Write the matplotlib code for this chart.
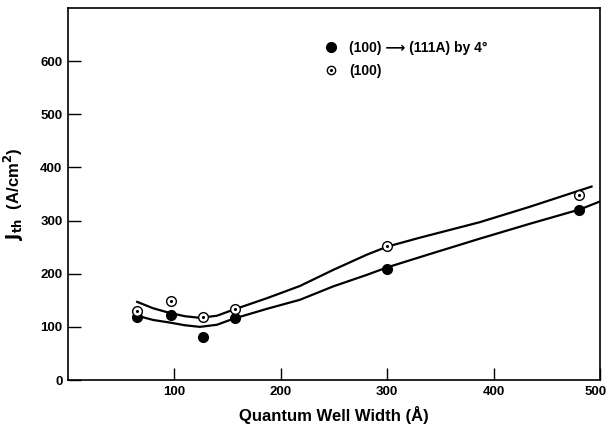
import numpy as np
import matplotlib
matplotlib.use('Agg')
import matplotlib.pyplot as plt
import matplotlib.transforms as mtransforms
from matplotlib.lines import Line2D

plt.rcParams['font.family'] = ['Liberation Sans', 'DejaVu Sans']

# measured points
width = [65, 97, 127, 157, 300, 480]
jth_tilted = [119, 123, 81, 117, 209, 319]   # (100) -> (111A) by 4 deg
jth_100 = [130, 148, 118, 133, 253, 349]     # (100)

# hand-drawn guide curves
upper_x = [65, 80, 96, 110, 124, 140, 155, 187, 218, 249, 281, 300, 331, 387, 434, 492]
upper_y = [147, 135, 126, 120, 117, 121, 132, 154, 177, 207, 236, 251, 268, 297, 326, 364]
lower_x = [65, 80, 96, 110, 124, 140, 155, 187, 218, 249, 281, 300, 340, 387, 434, 481, 500]
lower_y = [121, 113, 108, 103, 100, 104, 115, 134, 151, 176, 198, 212, 237, 266, 294, 321, 336]

fig = plt.figure(figsize=(6.09, 4.28), dpi=100)
ax = fig.add_axes([0.1117, 0.1121, 0.8736, 0.8692])

ax.plot(upper_x, upper_y, color='black', lw=1.6, solid_joinstyle='round')
ax.plot(lower_x, lower_y, color='black', lw=1.6, solid_joinstyle='round')

ax.plot(width, jth_tilted, 'o', color='black', ms=7, zorder=3)
ax.plot(width, jth_100, 'o', mfc='white', mec='black', mew=1.0, ms=7, zorder=3)
ax.plot(width, jth_100, '.', color='black', ms=2.5, zorder=4)

ax.set_xlim(0, 500)
ax.set_ylim(0, 700)
ax.set_xticks([100, 200, 300, 400, 500])
ax.set_yticks([0, 100, 200, 300, 400, 500, 600])
ax.tick_params(direction='in', length=9, width=1, labelsize=9.5, pad=4)
for lab in ax.get_xticklabels() + ax.get_yticklabels():
    lab.set_fontweight('bold')
# nudge the last x label so it stays inside the figure
last = ax.get_xticklabels()[-1]
last.set_transform(last.get_transform() +
                   mtransforms.ScaledTranslation(-3 / 72, 0, fig.dpi_scale_trans))
for s in ax.spines.values():
    s.set_linewidth(1.2)

ax.set_xlabel('Quantum Well Width (Å)', fontsize=12, fontweight='bold', labelpad=6)
ax.set_ylabel(r'$\mathbf{J_{th}}$  (A/cm$^{\mathbf{2}}$)', fontsize=12, fontweight='bold', labelpad=10)

h1 = Line2D([], [], marker='o', color='black', ls='none', ms=7)
h2 = Line2D([], [], marker='o', mfc='white', mec='black', ls='none', ms=6)
h3 = Line2D([], [], marker='.', color='black', ls='none', ms=2.5)
leg = ax.legend([h1, (h2, h3)], ['(100) ⟶ (111A) by 4°', '(100)'],
                loc='upper left', bbox_to_anchor=(0.455, 0.945), frameon=False,
                prop={'weight': 'bold', 'size': 10}, handletextpad=0.7,
                labelspacing=0.65, handlelength=1.2)

fig.savefig('out.png', dpi=100)
